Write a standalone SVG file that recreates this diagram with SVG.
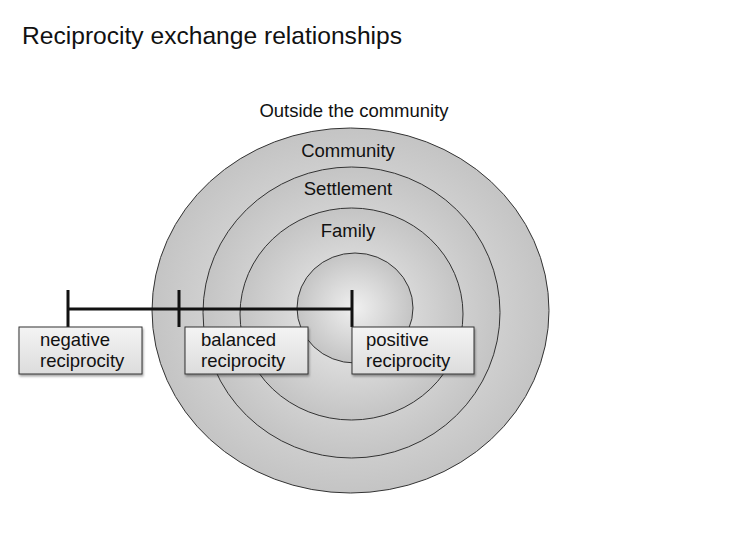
<svg xmlns="http://www.w3.org/2000/svg" width="740" height="555" viewBox="0 0 740 555">
<style>
.c{stroke:#333;stroke-width:1;fill:url(#rg)}
.b{fill:url(#bg);stroke:#333;stroke-width:1;filter:url(#sh)}
text{font-family:"Liberation Sans",Arial,sans-serif;fill:#111}
.l{font-size:18.5px;text-anchor:middle}
.t{font-size:18.5px}
</style>
<defs>
<radialGradient id="rg" cx="50%" cy="50%" r="50%">
<stop offset="0" stop-color="#f0f0f0"/><stop offset="1" stop-color="#c4c4c4"/>
</radialGradient>
<linearGradient id="bg" x1="0" y1="0" x2="0" y2="1">
<stop offset="0" stop-color="#f4f4f4"/><stop offset="1" stop-color="#dcdcdc"/>
</linearGradient>
<filter id="sh" x="-10%" y="-10%" width="130%" height="140%"><feDropShadow dx="1" dy="2" stdDeviation="1.2" flood-opacity="0.35"/></filter>
</defs>
<rect width="740" height="555" fill="#fff"/>
<text x="22" y="44" font-size="24.6">Reciprocity exchange relationships</text>
<text class="l" x="354" y="117">Outside the community</text>
<g id="outer"><ellipse class="c" cx="350.5" cy="310.5" rx="198.5" ry="182.5"/><text class="l" x="348" y="157">Community</text></g>
<g id="settlement"><ellipse class="c" cx="351.5" cy="312.5" rx="148.5" ry="145.5"/><text class="l" x="348" y="195">Settlement</text></g>
<g id="family"><ellipse class="c" cx="351.5" cy="314" rx="111.5" ry="106"/><text class="l" x="348" y="237">Family</text></g>
<g id="core"><ellipse class="c" cx="355" cy="308" rx="58" ry="55"/></g>
<g id="connectors" stroke="#111" stroke-width="3">
<line x1="68" y1="309" x2="352" y2="309"/>
<line x1="68" y1="290" x2="68" y2="327"/>
<line x1="179" y1="290" x2="179" y2="327"/>
<line x1="352" y1="290" x2="352" y2="327"/>
</g>
<g id="negative"><rect class="b" x="19" y="327" width="123" height="47"/><text class="t" x="40" y="346">negative</text><text class="t" x="40" y="367">reciprocity</text></g>
<g id="balanced"><rect class="b" x="185" y="327" width="123" height="47"/><text class="t" x="201" y="346">balanced</text><text class="t" x="201" y="367">reciprocity</text></g>
<g id="positive"><rect class="b" x="352" y="327" width="122" height="47"/><text class="t" x="366" y="346">positive</text><text class="t" x="366" y="367">reciprocity</text></g>
</svg>
